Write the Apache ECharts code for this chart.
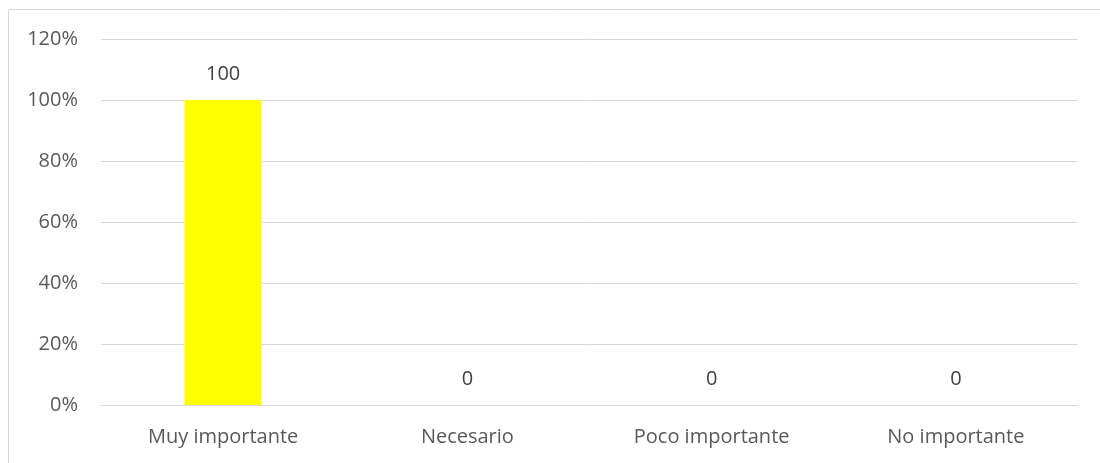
<!DOCTYPE html>
<html><head><meta charset="utf-8">
<script src="https://cdn.jsdelivr.net/npm/echarts@6/dist/echarts.min.js"></script>
<style>html,body{margin:0;padding:0;background:#fff}#c{width:1100px;height:463px}</style>
</head><body><div id="c"></div>
<script>
const categories = ["Muy importante", "Necesario", "Poco importante", "No importante"];
const values = [100, 0, 0, 0];
const yTicks = [0, 20, 40, 60, 80, 100, 120];

const chart = echarts.init(document.getElementById('c'), null, {renderer: 'canvas'});
chart.setOption({
  animation: false,
  graphic: [{type: 'rect', shape: {x: 8.5, y: 9.5, width: 1200, height: 600}, style: {fill: 'none', stroke: '#D9D9D9', lineWidth: 1}, silent: true}],
  grid: {left: 101, right: 22, top: 39, bottom: 58, containLabel: false},
  xAxis: {
    type: 'category', data: categories,
    axisLine: {show: true, lineStyle: {color: '#D9D9D9'}},
    axisTick: {show: false},
    axisLabel: {color: '#595959', fontSize: 20, fontFamily: 'Open Sans', margin: 22}
  },
  yAxis: {
    type: 'value', min: yTicks[0], max: yTicks[yTicks.length - 1], interval: 20,
    axisLine: {show: false}, axisTick: {show: false},
    splitLine: {lineStyle: {color: '#D9D9D9', width: 1}},
    axisLabel: {color: '#595959', fontSize: 20, fontFamily: 'Open Sans', margin: 23, formatter: v => v + '%'}
  },
  series: [{
    type: 'bar', data: values, barWidth: 77,
    itemStyle: {color: '#FFFF00'},
    label: {show: true, position: 'top', distance: 16, color: '#404040', fontSize: 20, fontFamily: 'Open Sans'}
  }]
});
</script></body></html>
